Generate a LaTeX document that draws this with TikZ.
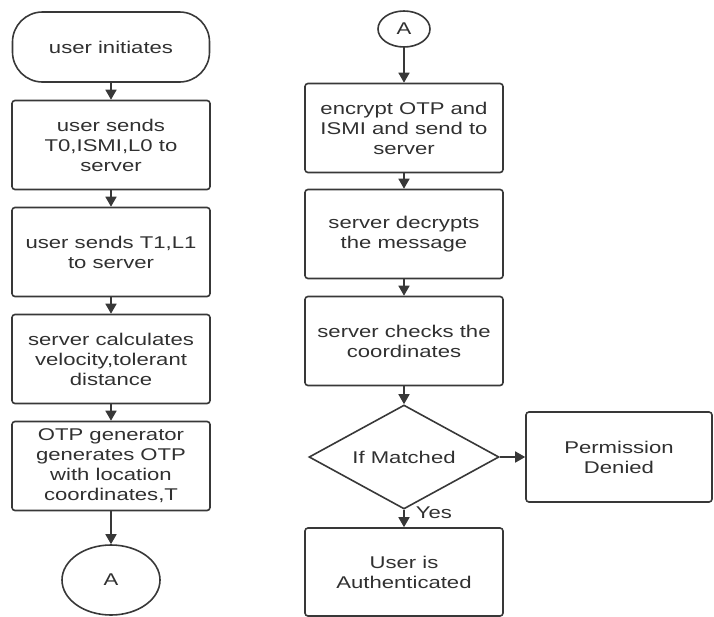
\documentclass[tikz,border=0pt]{standalone}
\usepackage{fontspec}
\newfontfamily\flowfont{Liberation Sans}[FakeStretch=1.3]
\usepackage{tikz}
\usetikzlibrary{positioning,arrows.meta}
\usetikzlibrary{shapes}
\definecolor{edgegray}{HTML}{383838}
\definecolor{inkgray}{HTML}{303030}
\tikzset{every picture/.style={line width=1.6pt}}
\tikzset{
  flowtext/.style={font=\flowfont\fontsize{17}{20}\selectfont, text=inkgray},
  terminal/.style={flowtext, draw=edgegray, rounded corners=30pt, minimum width=197pt, minimum height=70pt, align=center},
  stepbox/.style={flowtext, draw=edgegray, rounded corners=3pt, minimum width=198pt, minimum height=89pt, align=center, inner sep=2pt},
  connector/.style={flowtext, draw=edgegray, ellipse, inner sep=0pt},
  decision/.style={flowtext, draw=edgegray, diamond, aspect=1.8, inner sep=0pt, minimum width=190pt, minimum height=104pt},
  flow/.style={draw=edgegray, -{Triangle[width=11pt,length=10pt]}}
}

\begin{document}
\begin{tikzpicture}[x=1pt,y=-1pt]
        \useasboundingbox (0,0) rectangle (714,616);
        % left column
        \node[terminal] (start) at (111,47) {user initiates};
        \node[stepbox] (send0) at (111,145) {user sends\\T0,ISMI,L0 to\\server};
        \node[stepbox] (send1) at (111,252) {user sends T1,L1\\to server};
        \node[stepbox] (calc) at (111,359) {server calculates\\velocity,tolerant\\distance};
        \node[stepbox] (otpgen) at (111,466) {OTP generator\\generates OTP\\with location\\coordinates,T};
        \node[connector, minimum width=98pt, minimum height=70pt] (conA) at (111,580) {A};
        %
        % right column
        \node[connector, minimum width=52pt, minimum height=36pt] (conB) at (404,29) {A};
        \node[stepbox] (encrypt) at (404,128) {encrypt OTP and\\ISMI and send to\\server};
        \node[stepbox] (decrypt) at (404,234) {server decrypts\\the message};
        \node[stepbox] (check) at (404,341) {server checks the\\coordinates};
        \node[decision] (match) at (404,457) {If Matched};
        \node[stepbox, minimum width=186pt, minimum height=90pt] (deny) at (619,457) {Permission\\Denied};
        \node[stepbox, minimum height=88pt] (auth) at (404,572) {User is\\Authenticated};
        \node[flowtext, anchor=west, inner sep=0pt] (yes) at (415,513) {Yes};
        %
        \draw[flow] (start) -- (send0);
        \draw[flow] (send0) -- (send1);
        \draw[flow] (send1) -- (calc);
        \draw[flow] (calc) -- (otpgen);
        \draw[flow] (otpgen) -- (conA);
        \draw[flow] (conB) -- (encrypt);
        \draw[flow] (encrypt) -- (decrypt);
        \draw[flow] (decrypt) -- (check);
        \draw[flow] (check) -- (match);
        \draw[flow] (match) -- (deny);
        \draw[flow] (match) -- (auth);
\end{tikzpicture}
\end{document}
